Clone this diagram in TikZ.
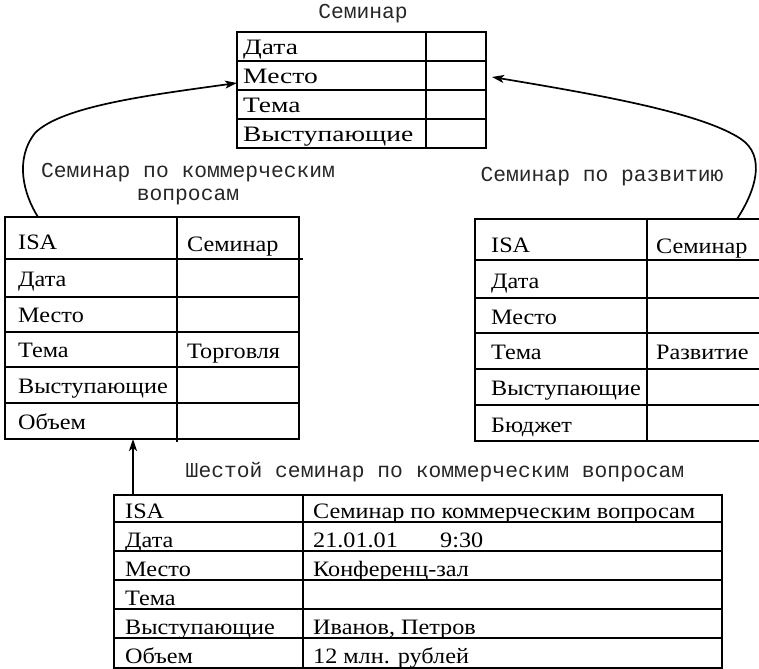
\documentclass[tikz,border=0pt]{standalone}
\usepackage{fontspec}
\setmainfont{Liberation Serif}
\newfontfamily\tablefam[FakeStretch=1.1]{Liberation Serif}
\newfontfamily\widefam[FakeStretch=1.25]{Liberation Serif}
\newfontfamily\monofam{Liberation Mono}
\usetikzlibrary{arrows.meta}

\tikzset{
  frame/.style={line width=1.9bp, line cap=rect},
  box/.style={draw, frame, inner sep=0pt, outer sep=0pt, anchor=north west},
  cell/.style={anchor=base west, inner sep=0pt, font=\tablefam\fontsize{22bp}{24bp}\selectfont},
  widecell/.style={anchor=base west, inner sep=0pt, font=\widefam\fontsize{22bp}{24bp}\selectfont},
  caption/.style={inner sep=0pt, align=center, text=black!85, font=\monofam\fontsize{21.3bp}{22.5bp}\selectfont},
  link/.style={line width=1.7bp, -{Stealth[length=12bp,width=8bp,inset=3bp]}}
}

\begin{document}
\begin{tikzpicture}[x=1bp,y=-1bp]
\useasboundingbox (0,0) rectangle (759,669);

% ---- generic seminar entity ----
\node[caption] (semcap) at (363,14) {Семинар};
\node[box, minimum width=249bp, minimum height=116bp] (sem) at (237,32) {};
\draw[frame] (237,61) -- (486,61) (237,90) -- (486,90) (237,119) -- (486,119)
             (426,32) -- (426,148);
\node[widecell] (sem1) at (243,55) {Дата};
\node[widecell] (sem2) at (243,84) {Место};
\node[widecell] (sem3) at (243,113) {Тема};
\node[widecell] (sem4) at (243,142) {Выступающие};

% ---- commercial seminar subtype ----
\node[caption] (comcap) at (188,184) {Семинар по коммерческим\\вопросам};
\node[box, minimum width=294bp, minimum height=222bp] (com) at (5,217) {};
\draw[frame] (5,259) -- (302,259) (5,297) -- (299,297) (5,332) -- (299,332)
             (5,367) -- (299,367) (5,403) -- (299,403)
             (177,217) -- (177,441);
\node[cell] (com1) at (18,249) {ISA};
\node[cell] (com1b) at (187,251) {Семинар};
\node[cell] (com2) at (18,286) {Дата};
\node[cell] (com3) at (18,322) {Место};
\node[cell] (com4) at (18,357) {Тема};
\node[cell] (com4b) at (187,358) {Торговля};
\node[cell] (com5) at (18,393) {Выступающие};
\node[cell] (com6) at (18,429) {Объем};

% ---- development seminar subtype ----
\node[caption] (devcap) at (602,177) {Семинар по развитию};
\node[inner sep=0pt, outer sep=0pt, anchor=north west,
      minimum width=284bp, minimum height=222bp] (dev) at (475,219) {};
\draw[frame] (dev.north east) -- (dev.north west) -- (dev.south west) -- (dev.south east);
\draw[frame] (475,260) -- (759,260) (475,298) -- (759,298) (475,333) -- (759,333)
             (475,369) -- (759,369) (475,405) -- (759,405)
             (647,219) -- (647,441);
\node[cell] (dev1) at (491,252) {ISA};
\node[cell] (dev1b) at (656,253) {Семинар};
\node[cell] (dev2) at (491,288) {Дата};
\node[cell] (dev3) at (491,324) {Место};
\node[cell] (dev4) at (491,359) {Тема};
\node[cell] (dev4b) at (656,359) {Развитие};
\node[cell] (dev5) at (491,395) {Выступающие};
\node[cell] (dev6) at (491,432) {Бюджет};

% ---- concrete seminar instance ----
\node[caption] (inscap) at (435,472) {Шестой семинар по коммерческим вопросам};
\node[box, minimum width=608bp, minimum height=173bp] (ins) at (114,495) {};
\draw[frame] (114,522) -- (722,522) (114,551) -- (722,551) (114,580) -- (722,580)
             (114,609) -- (722,609) (114,638) -- (722,638)
             (303,495) -- (303,668);
\node[cell] (ins1) at (125,518) {ISA};
\node[cell] (ins1b) at (313,518) {Семинар по коммерческим вопросам};
\node[cell] (ins2) at (125,547) {Дата};
\node[cell] (ins2b) at (313,547) {\makebox[127bp][l]{21.01.01}9:30};
\node[cell] (ins3) at (125,576.5) {Место};
\node[cell] (ins3b) at (313,576.5) {Конференц-зал};
\node[cell] (ins4) at (125,605) {Тема};
\node[cell] (ins5) at (125,634) {Выступающие};
\node[cell] (ins5b) at (313,634) {Иванов, Петров};
\node[cell] (ins6) at (125,663) {Объем};
\node[cell] (ins6b) at (313,663) {12 млн. рублей};

% ---- ISA links ----
\draw[link] ([xshift=33bp]com.north west)
  .. controls (24,195) and (14,160) .. (35,133)
  .. controls (62,106) and (150,95) .. ([yshift=-51bp]sem.north west);
\draw[link] ([xshift=262bp]dev.north west)
  .. controls (756,190) and (766,156) .. (741,139)
  .. controls (702,113) and (600,95) .. ([yshift=-45bp,xshift=6bp]sem.north east);
\draw[link] ([xshift=19bp]ins.north west) -- ([xshift=128bp]com.south west);
\end{tikzpicture}
\end{document}
